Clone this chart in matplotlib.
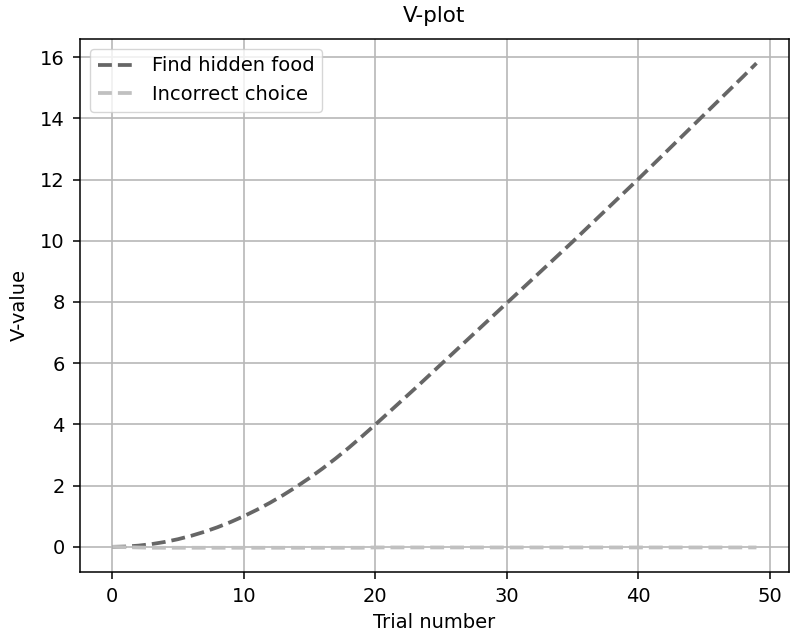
import matplotlib
matplotlib.use("Agg")
import matplotlib.pyplot as plt

# valeurs V par essai
trials = list(range(50))
find_food = [0.0, 0.01, 0.04, 0.09, 0.16, 0.25, 0.36, 0.49, 0.64, 0.81,
             1.0, 1.21, 1.44, 1.69, 1.96, 2.25, 2.56, 2.89, 3.24, 3.61,
             3.99, 4.38, 4.77, 5.16, 5.56, 5.96, 6.36, 6.76, 7.16, 7.56,
             7.96, 8.36, 8.76, 9.16, 9.56, 9.96, 10.37, 10.78, 11.19, 11.6,
             12.01, 12.43, 12.85, 13.27, 13.69, 14.11, 14.53, 14.95, 15.37, 15.8]
incorrect = [0.0, -0.01, -0.02, -0.03, -0.03, -0.03, -0.03, -0.03, -0.03, -0.03,
             -0.03, -0.03, -0.03, -0.03, -0.03, -0.03, -0.03, -0.03, -0.03, -0.03,
             -0.02, -0.02, -0.02, -0.02, -0.02, -0.02, -0.02, -0.02, -0.02, -0.02,
             -0.02, -0.02, -0.02, -0.02, -0.02, -0.02, -0.02, -0.02, -0.02, -0.02,
             -0.02, -0.02, -0.02, -0.02, -0.02, -0.02, -0.02, -0.02, -0.02, -0.02]

fig = plt.figure(figsize=(7.9, 6.34), dpi=100)
ax = fig.add_axes([0.1013, 0.0978, 0.897, 0.8407])
ax.plot(trials, find_food, linestyle="--", color="#666666", linewidth=2.7, label="Find hidden food")
ax.plot(trials, incorrect, linestyle="--", color="#c0c0c0", linewidth=2.7, label="Incorrect choice")
ax.grid(True, color="#b8b8b8", linewidth=1.2)
ax.set_axisbelow(True)
for s in ax.spines.values():
    s.set_linewidth(1.1)
ax.set_title("V-plot", fontsize=15.5, pad=12)
ax.set_xlabel("Trial number", fontsize=14, labelpad=5)
ax.set_ylabel("V-value", fontsize=14, labelpad=8)
ax.tick_params(labelsize=14, length=5, width=1.1, pad=6)
ax.legend(loc="upper left", fontsize=14, borderaxespad=0.5)
fig.savefig("out.png", dpi=100)
